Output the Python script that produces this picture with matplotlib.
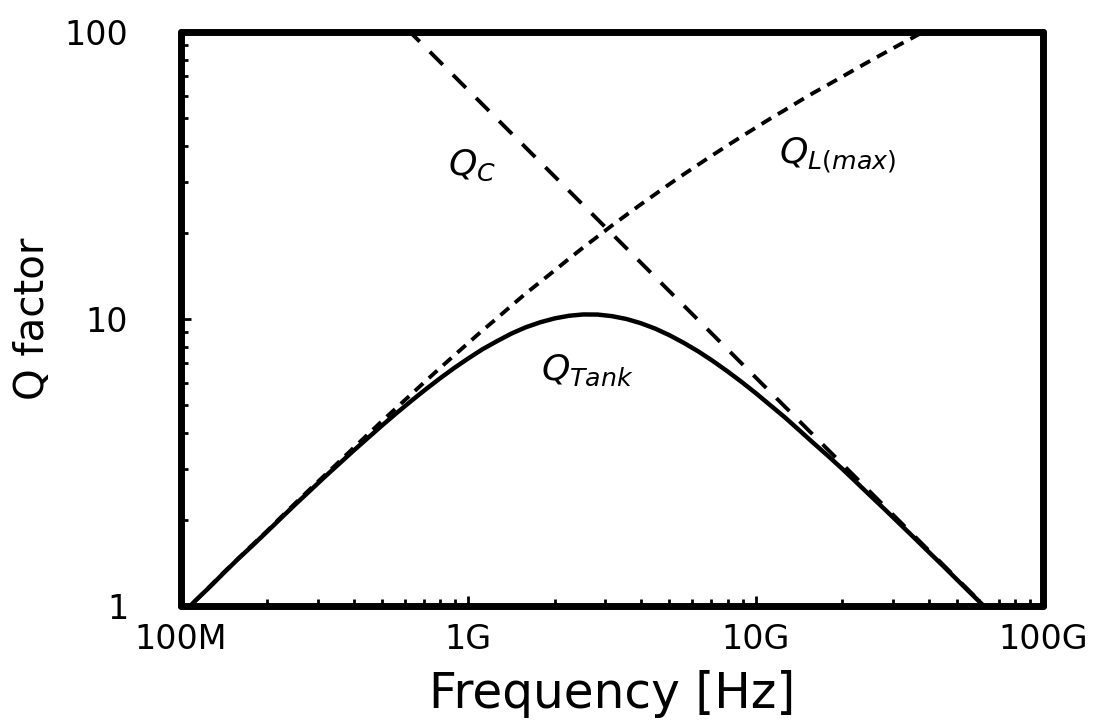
import matplotlib
matplotlib.use("Agg")
import matplotlib.pyplot as plt
from matplotlib.ticker import FixedLocator, FixedFormatter, LogLocator, NullFormatter

plt.rcParams['font.family'] = ['DejaVu Sans']
plt.rcParams['mathtext.fontset'] = 'dejavusans'

# Frequency grid in GHz (20 points per decade)
freq_ghz = [0.1, 0.112, 0.126, 0.141, 0.158, 0.178, 0.2, 0.224, 0.251, 0.282,
            0.316, 0.355, 0.398, 0.447, 0.501, 0.562, 0.631, 0.708, 0.794, 0.891,
            1.0, 1.12, 1.26, 1.41, 1.58, 1.78, 2.0, 2.24, 2.51, 2.82,
            3.16, 3.55, 3.98, 4.47, 5.01, 5.62, 6.31, 7.08, 7.94, 8.91,
            10.0, 11.2, 12.6, 14.1, 15.8, 17.8, 20.0, 22.4, 25.1, 28.2,
            31.6, 35.5, 39.8, 44.7, 50.1, 56.2, 63.1]

# Inductor Q (max)
q_l = [0.93, 1.04, 1.17, 1.31, 1.46, 1.64, 1.83, 2.05, 2.29, 2.56,
       2.85, 3.18, 3.55, 3.96, 4.41, 4.90, 5.45, 6.06, 6.72, 7.45,
       8.25, 9.12, 10.07, 11.11, 12.24, 13.46, 14.78, 16.21, 17.74, 19.39,
       21.16, 23.05, 25.06, 27.21, 29.50, 31.92, 34.49, 37.23, 40.11, 43.16,
       46.38, 49.79, 53.38, 57.17, 61.16, 65.38, 69.85, 74.53, 79.47, 84.72,
       90.23, 96.0, 102.2, 108.7, 115.5, 122.8, 130.5]

# Capacitor Q (straight line on log-log axes)
qc_freq_ghz = [0.627, 63.1]
q_c = [100, 0.99]

# Tank Q
q_tank = [0.930, 1.041, 1.165, 1.304, 1.458, 1.629, 1.821, 2.032, 2.267, 2.527,
          2.813, 3.127, 3.471, 3.848, 4.255, 4.695, 5.168, 5.669, 6.192, 6.738,
          7.289, 7.843, 8.375, 8.888, 9.346, 9.739, 10.05, 10.26, 10.37, 10.36,
          10.23, 9.999, 9.669, 9.257, 8.780, 8.258, 7.711, 7.149, 6.592, 6.046,
          5.520, 5.021, 4.552, 4.117, 3.714, 3.343, 3.006, 2.698, 2.419, 2.166,
          1.940, 1.734, 1.550, 1.385, 1.237, 1.104, 0.986]

freq = [f * 1e9 for f in freq_ghz]
qc_freq = [f * 1e9 for f in qc_freq_ghz]

x_ticks = [1e8, 1e9, 1e10, 1e11]
x_labels = ["100M", "1G", "10G", "100G"]
y_ticks = [1, 10, 100]
y_labels = ["1", "10", "100"]

fig = plt.figure(figsize=(11.02, 7.22), dpi=100)
ax = fig.add_axes([0.1642, 0.1607, 0.7823, 0.795])

ax.plot(qc_freq, q_c, color="black", lw=2.8, linestyle=(1.2, (4.7, 3.7)))
ax.plot(freq, q_l, color="black", lw=2.8, dashes=(2.9, 2.0))
ax.plot(freq, q_tank, color="black", lw=3.2, solid_capstyle="round",
        solid_joinstyle="round")

ax.set_xscale("log")
ax.set_yscale("log")
ax.set_xlim(1e8, 1e11)
ax.set_ylim(1, 100)

ax.xaxis.set_major_locator(FixedLocator(x_ticks))
ax.xaxis.set_major_formatter(FixedFormatter(x_labels))
ax.yaxis.set_major_locator(FixedLocator(y_ticks))
ax.yaxis.set_major_formatter(FixedFormatter(y_labels))
ax.xaxis.set_minor_locator(LogLocator(base=10, subs=range(2, 10)))
ax.yaxis.set_minor_locator(LogLocator(base=10, subs=range(2, 10)))
ax.xaxis.set_minor_formatter(NullFormatter())
ax.yaxis.set_minor_formatter(NullFormatter())

ax.tick_params(which="both", direction="in", top=False, right=False, width=2, color="black")
ax.tick_params(which="major", length=7)
ax.tick_params(which="minor", length=5)
ax.tick_params(axis="x", which="major", labelsize=24, pad=12)
ax.tick_params(axis="y", which="major", labelsize=24, pad=38)

for s in ax.spines.values():
    s.set_linewidth(5)
    s.set_capstyle("round")

ax.set_xlabel("Frequency [Hz]", fontsize=35, labelpad=10)
ax.set_ylabel("Q factor", fontsize=29, labelpad=8)

ax.text(1.03e9, 34.4, r"$Q_{C}$", fontsize=26, ha="center", va="center")
ax.text(1.92e10, 37.3, r"$Q_{L(max)}$", fontsize=26, ha="center", va="center")
ax.text(2.59e9, 6.64, r"$Q_{Tank}$", fontsize=26, ha="center", va="center")

fig.savefig("out.png", dpi=100)
